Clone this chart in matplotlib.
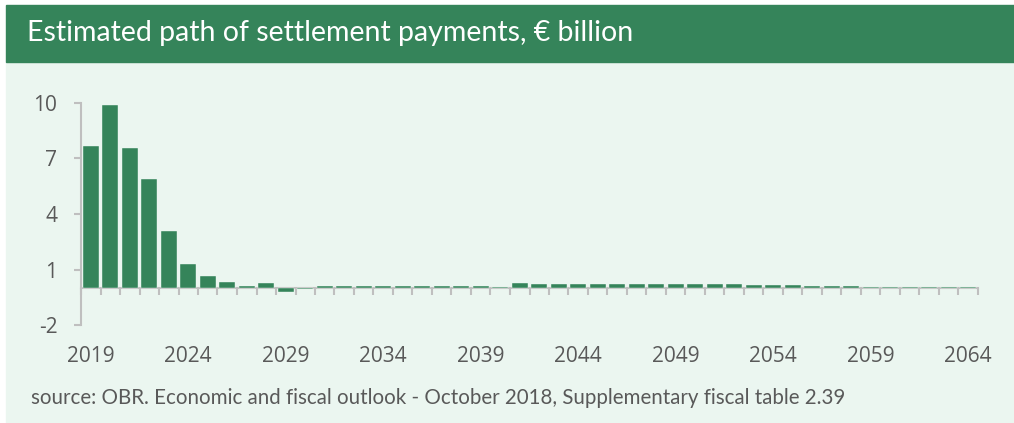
import numpy as np
import matplotlib.pyplot as plt
from matplotlib.patches import Rectangle

years = list(range(2019, 2065))
payments = [7.65, 9.9, 7.55, 5.9, 3.08, 1.3, 0.67, 0.33, 0.1, 0.27,
            -0.22, -0.05, 0.1, 0.1, 0.1, 0.1, 0.1, 0.1, 0.1, 0.1,
            0.1, 0.05, 0.27, 0.24, 0.24, 0.24, 0.24, 0.22, 0.22, 0.22,
            0.22, 0.22, 0.22, 0.2, 0.16, 0.16, 0.15, 0.13, 0.1, 0.1,
            0.08, 0.08, 0.05, 0.05, 0.04, 0.04]
ytick_vals = [-2, 1, 4, 7, 10]
xtick_years = list(range(2019, 2065, 5))

green = '#35845a'
mint = '#ebf6f0'
grey = '#bfbfbf'
text_grey = '#595959'
font = ['Lato', 'DejaVu Sans']

fig = plt.figure(figsize=(10.14, 4.23), dpi=100)
fig.patch.set_facecolor('white')
W, H = 1014, 423
fig.patches.append(Rectangle((6 / W, 0), 1 - 6 / W, 1 - 62 / H,
                             transform=fig.transFigure, color=mint, zorder=-2))
fig.patches.append(Rectangle((6 / W, 1 - 62 / H), 1 - 6 / W, 57 / H,
                             transform=fig.transFigure, color=green, zorder=-2))
fig.text(27 / W, 1 - 33 / H, 'Estimated path of settlement payments, \u20ac billion',
         color='white', fontsize=20.5, va='center', ha='left', family=font)
fig.text(31 / W, 1 - 398 / H,
         'source: OBR. Economic and fiscal outlook - October 2018, Supplementary fiscal table 2.39',
         color=text_grey, fontsize=14.8, va='center', ha='left', family=font)

ax = fig.add_axes([81 / W, 1 - 325 / H, 897 / W, 222 / H])
ax.set_zorder(2)
ax.set_facecolor('none')
x = np.arange(len(years))
ax.bar(x, payments, width=0.82, color=green, edgecolor=mint, linewidth=0.3, zorder=2)

ax.set_xlim(-0.5, len(years) - 0.5)
ax.set_ylim(-2, 10)
for s in ['top', 'right']:
    ax.spines[s].set_visible(False)
ax.spines['left'].set_color(grey)
ax.spines['left'].set_linewidth(1.5)
ax.spines['bottom'].set_position(('data', 0))
ax.spines['bottom'].set_color(grey)
ax.spines['bottom'].set_linewidth(1.5)
ax.spines['bottom'].set_zorder(1)

ax.set_yticks(ytick_vals)
ax.set_yticklabels([str(v) for v in ytick_vals])
ax.tick_params(axis='y', length=5, width=1.5, color=grey, labelcolor=text_grey,
               labelsize=15, pad=12)

ax.set_xticks([years.index(y) for y in xtick_years])
ax.set_xticklabels([str(y) for y in xtick_years])
ax.set_xticks(np.arange(len(years) + 1) - 0.5, minor=True)
ax.tick_params(axis='x', which='major', length=0, labelcolor=text_grey,
               labelsize=15, pad=42)
ax.tick_params(axis='x', which='minor', length=5, width=1.5, color=grey)

for lab in ax.get_xticklabels() + ax.get_yticklabels():
    lab.set_family(['Open Sans', 'DejaVu Sans'])

fig.savefig('out.png', dpi=100)
